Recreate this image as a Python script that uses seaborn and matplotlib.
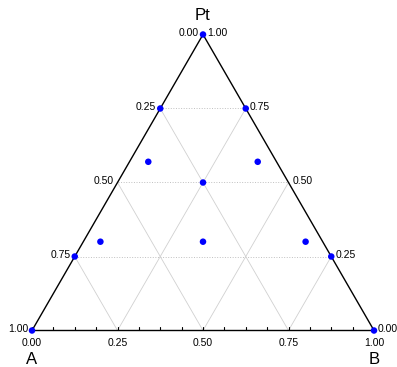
import numpy as np
import pandas as pd
import matplotlib
matplotlib.use("Agg")
import matplotlib.pyplot as plt
import seaborn as sns

# ternary compositions (fractions of A, B, Pt)
frac_a = [1.00, 0.00, 0.00, 0.25, 0.00, 0.375, 0.055, 0.25, 0.75, 0.65, 0.35, 0.05, 0.00]
frac_b = [0.00, 1.00, 0.00, 0.00, 0.25, 0.055, 0.375, 0.25, 0.00, 0.05, 0.35, 0.65, 0.75]
frac_pt = [0.00, 0.00, 1.00, 0.75, 0.75, 0.57, 0.57, 0.50, 0.25, 0.30, 0.30, 0.30, 0.25]

tick_vals = [0.0, 0.25, 0.5, 0.75, 1.0]
tick_labels = ["0.00", "0.25", "0.50", "0.75", "1.00"]
grid_vals = [0.25, 0.5, 0.75]

H = np.sqrt(3) / 2


def to_xy(b, pt):
    # project (B, Pt) fractions onto the equilateral triangle
    b = np.asarray(b, dtype=float)
    pt = np.asarray(pt, dtype=float)
    return b + pt / 2, pt * H


def main():
    sns.set_style("white")
    plt.rcParams["font.family"] = ["Liberation Sans", "DejaVu Sans"]
    plt.rcParams["text.color"] = "black"

    fig = plt.figure(figsize=(3.97, 3.67), dpi=100)
    ax = fig.add_axes([32 / 397, (367 - 330.5) / 367, 342 / 397, 296 / 367])
    ax.set_xlim(0, 1)
    ax.set_ylim(0, H)
    ax.axis("off")

    # grid lines
    for t in grid_vals:
        x, y = to_xy([0, 1 - t], [t, t])
        ax.plot(x, y, color="#c0c0c0", lw=0.7, ls=":", zorder=1)
        x, y = to_xy([t, t], [0, 1 - t])
        ax.plot(x, y, color="#d0d0d0", lw=0.6, zorder=1)
        x, y = to_xy([0, 1 - t], [1 - t, 0])
        ax.plot(x, y, color="#d0d0d0", lw=0.6, zorder=1)

    # triangle outline
    x, y = to_xy([0, 1, 0, 0], [0, 0, 1, 0])
    ax.plot(x, y, color="black", lw=1.0, zorder=2, clip_on=False)

    # small ticks on the bottom edge
    for k in range(17):
        ax.plot([k / 16, k / 16], [0, 0.009], color="black", lw=0.8, zorder=2)

    # data points
    px, py = to_xy(frac_b, frac_pt)
    df = pd.DataFrame({"x": px, "y": py})
    sns.scatterplot(data=df, x="x", y="y", color="#0000ff", s=22, edgecolor="none",
                    ax=ax, zorder=3, clip_on=False)

    fs = 7.5
    # left axis (A fraction)
    for v, lab in zip(tick_vals, tick_labels):
        x, y = to_xy(0, 1 - v)
        ax.annotate(lab, (x, y), xytext=(-4, 1), textcoords="offset pixels",
                    ha="right", va="center", fontsize=fs, annotation_clip=False)
    # right axis (Pt fraction)
    for v, lab in zip(tick_vals, tick_labels):
        x, y = to_xy(1 - v, v)
        ax.annotate(lab, (x, y), xytext=(4, 1), textcoords="offset pixels",
                    ha="left", va="center", fontsize=fs, annotation_clip=False)
    # bottom axis (B fraction)
    for v, lab in zip(tick_vals, tick_labels):
        ax.annotate(lab, (v, 0), xytext=(0, -12), textcoords="offset pixels",
                    ha="center", va="center", fontsize=fs, annotation_clip=False)

    ax.annotate("Pt", (0.5, H), xytext=(0, 19), textcoords="offset pixels",
                ha="center", va="center", fontsize=12, annotation_clip=False)
    ax.annotate("A", (0, 0), xytext=(0, -29), textcoords="offset pixels",
                ha="center", va="center", fontsize=12, annotation_clip=False)
    ax.annotate("B", (1, 0), xytext=(0, -29), textcoords="offset pixels",
                ha="center", va="center", fontsize=12, annotation_clip=False)

    fig.savefig("out.png", dpi=100)


if __name__ == "__main__":
    main()
